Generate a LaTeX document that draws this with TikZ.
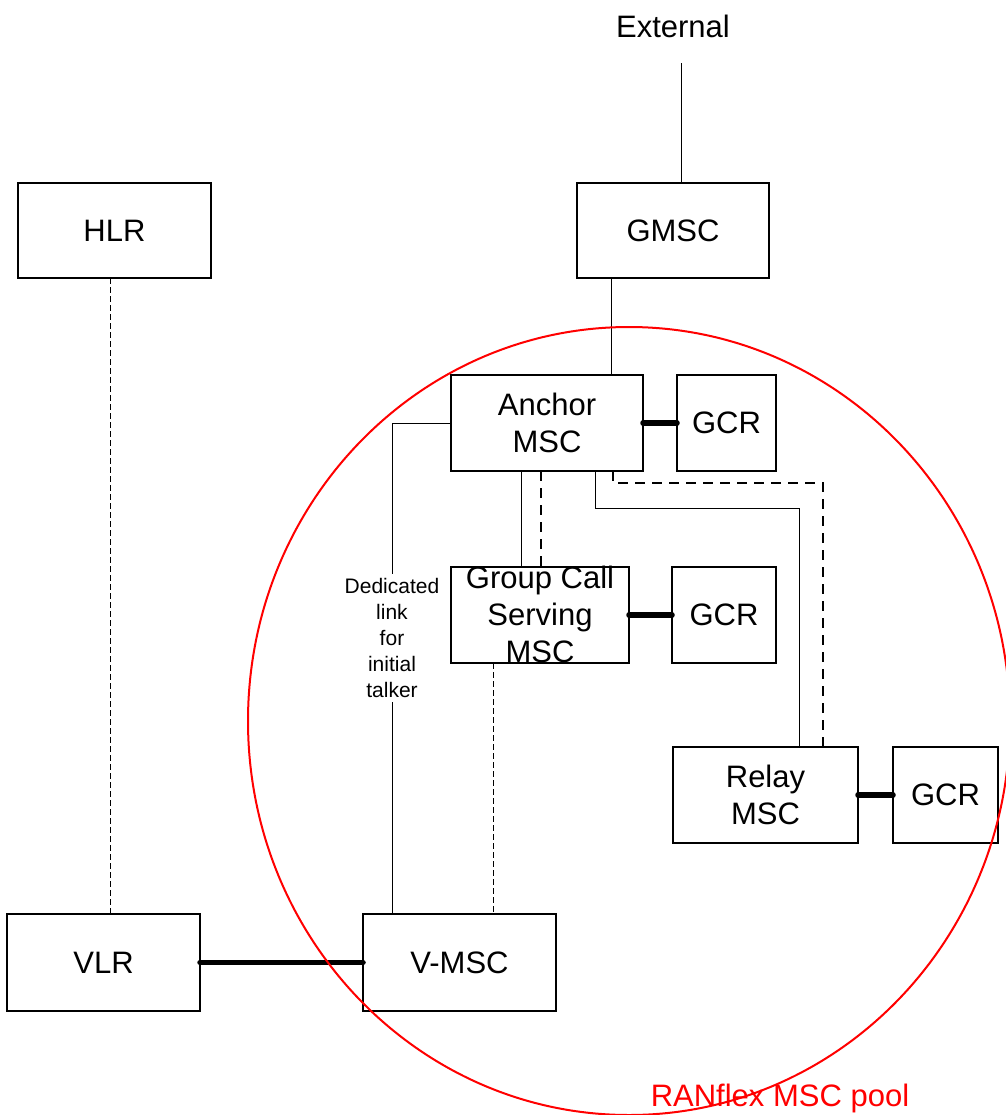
\documentclass[tikz,border=0pt]{standalone}
\usepackage{fontspec}
\setmainfont{Liberation Sans}
\begin{document}
\begin{tikzpicture}[x=0.5pt,y=-0.5pt,
  box/.style={draw, line width=1pt, inner sep=0pt, outer sep=0pt, align=center,
    font=\fontsize{15.5}{18.5}\selectfont},
  lbl/.style={inner sep=0pt, align=center, font=\fontsize{15.5}{18.5}\selectfont},
  link/.style={line width=0.5pt},
  thickl/.style={line width=2.75pt, line cap=round},
  dashl/.style={line width=0.6pt, dash pattern=on 5pt off 3.5pt},
  dashs/.style={line width=0.5pt, dash pattern=on 3pt off 1.5pt},
  pool/.style={draw=red, line width=1pt}]
\useasboundingbox (0,0) rectangle (1006,1115);

% boxes
\node[box, minimum width=96.5pt, minimum height=47.5pt] (hlr) at (114.5,230.5) {HLR};
\node[box, minimum width=96pt, minimum height=47.5pt] (gmsc) at (673,230.5) {GMSC};
\node[box, minimum width=96pt, minimum height=48pt] (anchor) at (547,423) {Anchor\\MSC};
\node[box, minimum width=49.5pt, minimum height=48pt] (gcr1) at (726.5,423) {GCR};
\node[box, minimum width=89pt, minimum height=48pt] (gcs) at (540,615) {};
\node[lbl] (gcst) at (540,614) {Group Call\\Serving\\MSC};
\node[box, minimum width=52pt, minimum height=48pt] (gcr2) at (724,615) {GCR};
\node[box, minimum width=92.5pt, minimum height=48pt] (relay) at (765.5,795) {Relay\\MSC};
\node[box, minimum width=52.5pt, minimum height=48pt] (gcr3) at (945.5,795) {GCR};
\node[box, minimum width=96.5pt, minimum height=48.5pt] (vlr) at (103.5,962.5) {VLR};
\node[box, minimum width=96.5pt, minimum height=48.5pt] (vmsc) at (459.5,962.5) {V-MSC};

% labels
\node[lbl] (ext) at (673,26) {External};
\coordinate (extend) at (681,63);
\node[inner sep=2pt, align=center, font=\fontsize{10.5}{13}\selectfont] (ded) at (392,638)
  {Dedicated\\link\\for\\initial\\talker};
\node[lbl, text=red] (poollbl) at (780,1098) {RANflex MSC pool};

% helper columns
\coordinate (c611) at (611,0);
\coordinate (c521) at (521,0);
\coordinate (c541) at (541,0);
\coordinate (c595) at (595,0);
\coordinate (c613) at (613,0);
\coordinate (c799) at (799,0);
\coordinate (c823) at (823,0);
\coordinate (c110) at (110,0);
\coordinate (c493) at (493,0);
\coordinate (r508) at (0,508);
\coordinate (r483) at (0,483);

% connectors
\draw[link] (extend) -- (extend |- gmsc.north);
\draw[link] (gmsc.south -| c611) -- (anchor.north -| c611);
\draw[thickl] (anchor.east) -- (gcr1.west);
\draw[link] (anchor.south -| c521) -- (gcs.north -| c521);
\draw[dashl] (anchor.south -| c541) -- (gcs.north -| c541);
\draw[link] (anchor.south -| c595) -- (c595 |- r508) -- (c799 |- r508) -- (relay.north -| c799);
\draw[dashl] (anchor.south -| c613) -- (c613 |- r483) -- (c823 |- r483) -- (relay.north -| c823);
\draw[thickl] (gcs.east) -- (gcr2.west);
\draw[thickl] (relay.east) -- (gcr3.west);
\draw[dashs] (hlr.south -| c110) -- (vlr.north -| c110);
\draw[dashs] (gcs.south -| c493) -- (vmsc.north -| c493);
\draw[thickl] (vlr.east) -- (vmsc.west);
\draw[link] (anchor.west) -| (ded.north);
\draw[link] (ded.south) -- (ded.south |- vmsc.north);

% pool
\draw[pool] (629,721) ellipse [x radius=190.5pt, y radius=197pt];
\end{tikzpicture}
\end{document}
